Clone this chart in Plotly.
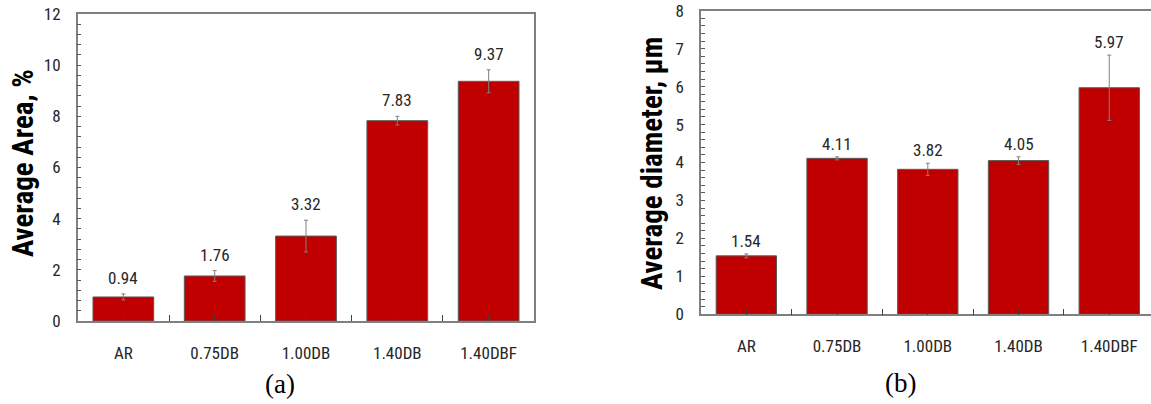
import plotly.graph_objects as go

# Sample groups shared by both panels
categories = ["AR", "0.75DB", "1.00DB", "1.40DB", "1.40DBF"]

# Panel (a): average area fraction, %
area_values = [0.94, 1.76, 3.32, 7.83, 9.37]
area_errors = [0.12, 0.21, 0.62, 0.17, 0.45]

# Panel (b): average diameter, µm
diam_values = [1.54, 4.11, 3.82, 4.05, 5.97]
diam_errors = [0.05, 0.04, 0.16, 0.10, 0.86]

positions = list(range(len(categories)))
boundaries = [p + 0.5 for p in positions[:-1]]

BAR_RED = "#C00000"
AXIS_GREY = "#808080"
TEXT_DARK = "#262626"
NARROW = "Roboto Condensed, Open Sans Condensed, sans-serif"
SERIF = "Liberation Serif, Times New Roman, serif"

fig = go.Figure()

for vals, errs, xa, ya in [(area_values, area_errors, "x", "y"),
                           (diam_values, diam_errors, "x2", "y2")]:
    fig.add_trace(go.Bar(
        x=positions, y=vals, xaxis=xa, yaxis=ya, width=0.665,
        marker=dict(color=BAR_RED, line=dict(color="#595959", width=1)),
        error_y=dict(type="data", array=errs, visible=True,
                     color=AXIS_GREY, thickness=1, width=2),
        showlegend=False, hoverinfo="skip",
    ))

# Value labels above each bar
for vals, errs, xa, ya, shift in [(area_values, area_errors, "x", "y", 16),
                                  (diam_values, diam_errors, "x2", "y2", 13)]:
    for p, v, e in zip(positions, vals, errs):
        fig.add_annotation(x=p, y=v + e, xref=xa, yref=ya, text=f"{v:.2f}",
                           showarrow=False, xanchor="center", yanchor="middle",
                           yshift=shift,
                           font=dict(family=NARROW, size=17, color=TEXT_DARK))

def x_axis(domain, rng):
    return dict(domain=domain, range=rng, tickmode="array", tickvals=positions,
                ticktext=categories, ticks="inside", ticklen=5, tickwidth=1,
                tickcolor="#404040", showline=True, linecolor=AXIS_GREY,
                linewidth=1.5, mirror=True, showgrid=False, zeroline=False,
                ticklabelstandoff=16, automargin=False,
                tickfont=dict(family=NARROW, size=17, color=TEXT_DARK),
                minor=dict(tickvals=boundaries, ticks="inside", ticklen=6,
                           tickwidth=1, tickcolor="#404040", showgrid=False))

def y_axis(domain, rng, dtick, minor_dtick, mirror):
    return dict(domain=domain, range=rng, dtick=dtick, ticks="inside",
                ticklen=4, tickwidth=1, tickcolor="#595959", showline=True,
                linecolor=AXIS_GREY, linewidth=1.5, mirror=mirror,
                showgrid=False, zeroline=False, ticklabelstandoff=12,
                automargin=False,
                tickfont=dict(family=NARROW, size=17, color=TEXT_DARK),
                minor=dict(dtick=minor_dtick, ticks="inside", ticklen=4,
                           tickwidth=1, tickcolor="#595959", showgrid=False))

fig.update_layout(
    width=1151, height=404,
    margin=dict(l=0, r=0, t=0, b=0, autoexpand=False),
    paper_bgcolor="white", plot_bgcolor="white",
    xaxis=dict(x_axis([0.0675, 0.4642], [-0.5, 4.5]), anchor="y"),
    yaxis=dict(y_axis([0.2054, 0.9653], [0, 12], 2, 0.4, True), anchor="x"),
    xaxis2=dict(x_axis([0.609, 1.0], [-0.5, 4.46]), anchor="y2"),
    yaxis2=dict(y_axis([0.222, 0.9735], [0, 8], 1, 0.2, False), anchor="x2"),
)

# Axis titles
for text, xc, yc in [("Average Area, %", 23, 163), ("Average diameter, µm", 652, 164)]:
    fig.add_annotation(text=text, xref="paper", yref="paper",
                       x=xc / 1151, y=(404 - yc) / 404, xanchor="center",
                       yanchor="middle", textangle=-90, showarrow=False,
                       font=dict(family=NARROW, size=29, color="black", weight="bold"))

# Panel captions
for text, xc, yc in [("(a)", 280, 384), ("(b)", 901, 383)]:
    fig.add_annotation(text=text, xref="paper", yref="paper",
                       x=xc / 1151, y=(404 - yc) / 404, xanchor="center",
                       yanchor="middle", showarrow=False,
                       font=dict(family=SERIF, size=27, color="black"))

fig.write_html("out.html")
